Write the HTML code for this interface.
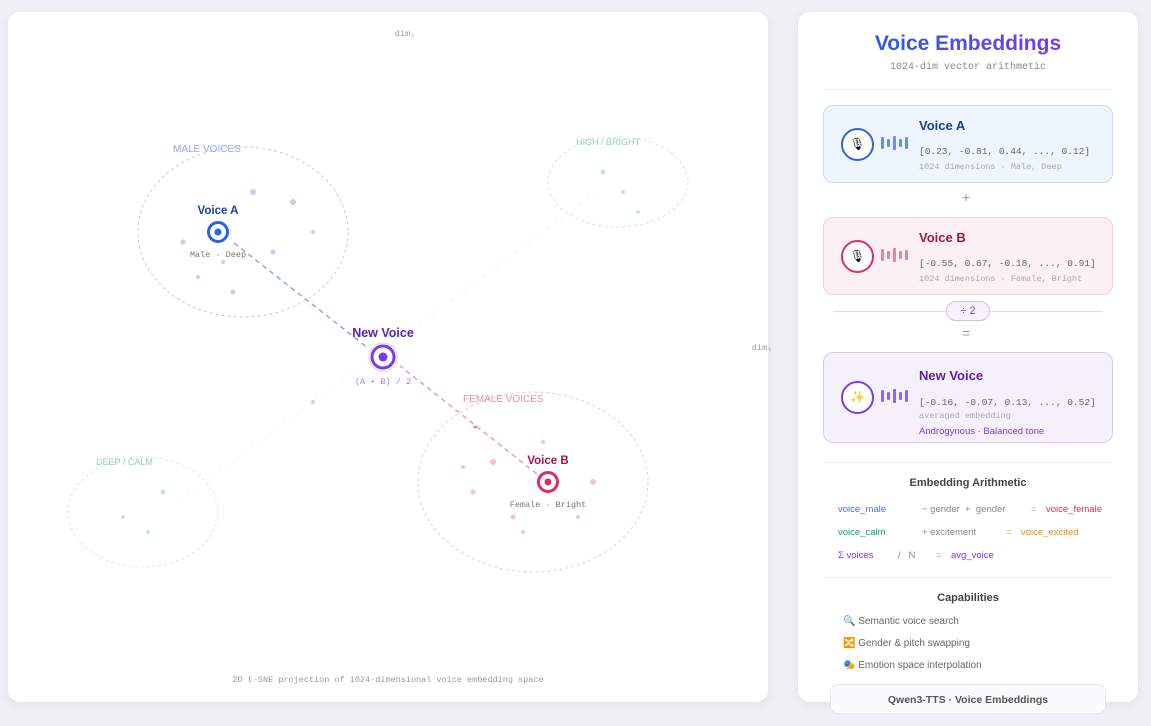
<!DOCTYPE html>
<html><head><style>
body{margin:0;width:1151px;height:726px;background:#eef0f5;font-family:"Liberation Sans",sans-serif;position:relative;overflow:hidden}
.panel{position:absolute;background:#fff;border-radius:12px;box-shadow:0 2px 10px rgba(0,0,0,.07)}
.mono{font-family:"Liberation Mono",monospace}
.card{position:absolute;left:823px;width:288px;border-radius:10px;border:1.5px solid}
.card .ic{position:absolute;left:17px;width:29px;height:29px;border-radius:50%;border:2px solid;background:#fff;text-align:center;line-height:29px;font-size:12px}
.card .bars{position:absolute;left:57px;display:flex;gap:3px;align-items:center;height:20px}
.card .bars i{display:block;width:3px;border-radius:1px}
.card .t{position:absolute;left:95px;font-weight:bold;font-size:13px}
.card .v{position:absolute;left:95px;font-size:9.5px;color:#666}
.card .s{position:absolute;left:95px;font-size:8.5px;color:#aaa}
.ar{position:absolute;font-size:9.5px}
</style></head><body>
<div class="panel" style="left:8px;top:12px;width:760px;height:690px"></div>
<svg style="position:absolute;left:0;top:0" width="800" height="726">
<g fill="none" stroke-dasharray="3 3" stroke-width="1">
<ellipse cx="243" cy="232" rx="105" ry="85" stroke="#c5cbe0"/>
<ellipse cx="618" cy="182" rx="70" ry="45" stroke="#cfe9dd"/>
<ellipse cx="533" cy="482" rx="115" ry="90" stroke="#e0cdd3"/>
<ellipse cx="143" cy="512" rx="75" ry="55" stroke="#d5ecdf"/>
</g>
<line x1="180" y1="500" x2="600" y2="190" stroke="#f3f4f7" stroke-dasharray="4 4"/>
<line x1="234" y1="243" x2="368" y2="348" stroke="#8fa7e8" stroke-width="1.5" stroke-dasharray="5 4"/>
<line x1="537" y1="474" x2="400" y2="366" stroke="#ef9ab6" stroke-width="1.5" stroke-dasharray="5 4"/>
<g fill="#c3d0f0">
<circle cx="253" cy="192" r="3"/><circle cx="293" cy="202" r="3"/><circle cx="313" cy="232" r="2"/><circle cx="183" cy="242" r="2.5"/><circle cx="273" cy="252" r="2.5"/><circle cx="223" cy="262" r="2"/><circle cx="198" cy="277" r="2"/><circle cx="233" cy="292" r="2.5"/><circle cx="313" cy="402" r="2"/></g>
<g fill="#f5c2d2">
<circle cx="493" cy="462" r="3"/><circle cx="463" cy="467" r="2"/><circle cx="543" cy="442" r="2"/><circle cx="593" cy="482" r="3"/><circle cx="473" cy="492" r="2.5"/><circle cx="513" cy="517" r="2.5"/><circle cx="523" cy="532" r="2"/><circle cx="578" cy="517" r="2"/><circle cx="475" cy="427" r="1.5" fill="#e77"/></g>
<g fill="#bfe6d2"><circle cx="603" cy="172" r="2.5"/><circle cx="623" cy="192" r="2"/><circle cx="638" cy="212" r="2"/><circle cx="163" cy="492" r="2.5"/><circle cx="123" cy="517" r="2"/><circle cx="148" cy="532" r="2"/></g>
<circle cx="218" cy="232" r="9.5" fill="#fff" stroke="#2d62e0" stroke-width="3"/><circle cx="218" cy="232" r="3.5" fill="#2d62e0"/>
<circle cx="383" cy="357" r="14" fill="none" stroke="#ddd3f7"/>
<circle cx="383" cy="357" r="11" fill="#fff" stroke="#7c3aed" stroke-width="3"/><circle cx="383" cy="357" r="4.5" fill="#7c3aed"/>
<circle cx="548" cy="482" r="9.5" fill="#fff" stroke="#db2d6a" stroke-width="3"/><circle cx="548" cy="482" r="3.5" fill="#db2d6a"/>
<g font-family="Liberation Sans" font-size="10">
<text x="173" y="152" fill="#8faae8">MALE VOICES</text>
<text x="576" y="145" fill="#8fd0b0" font-size="9">HIGH / BRIGHT</text>
<text x="463" y="402" fill="#ec8fb0">FEMALE VOICES</text>
<text x="96" y="465" fill="#8fd0b0" font-size="9">DEEP / CALM</text>
<text x="218" y="214" fill="#1e3a9a" font-weight="bold" font-size="11.5" text-anchor="middle">Voice A</text>
<text x="383" y="337" fill="#5b21b6" font-weight="bold" font-size="12.5" text-anchor="middle">New Voice</text>
<text x="548" y="464" fill="#9d174d" font-weight="bold" font-size="11.5" text-anchor="middle">Voice B</text>
</g>
<g font-family="Liberation Mono" font-size="8.5">
<text x="218" y="257" fill="#777" text-anchor="middle">Male · Deep</text>
<text x="383" y="384" fill="#9a82e0" text-anchor="middle">(A + B) / 2</text>
<text x="548" y="507" fill="#777" text-anchor="middle">Female · Bright</text>
<text x="405" y="36" fill="#999" text-anchor="middle">dim₂</text>
<text x="762" y="350" fill="#999" text-anchor="middle">dim₁</text>
<text x="388" y="682" fill="#999" text-anchor="middle">2D t-SNE projection of 1024-dimensional voice embedding space</text>
</g>
</svg>
<div class="panel" style="left:798px;top:12px;width:340px;height:690px"></div>
<div style="position:absolute;left:798px;width:340px;top:32px;text-align:center;font-size:21px;font-weight:bold;color:#3f5fe0"><span style="background:linear-gradient(90deg,#2d5be0,#7c3aed);-webkit-background-clip:text;background-clip:text;color:transparent">Voice Embeddings</span></div>
<div class="mono" style="position:absolute;left:798px;width:340px;top:62px;text-align:center;font-size:10px;color:#888">1024-dim vector arithmetic</div>
<div style="position:absolute;left:823px;width:290px;top:89px;border-top:1px solid #eceef2"></div>
<div class="card" style="top:105px;height:76px;background:#eef5fe;border-color:#c9dcf7">
<div class="ic" style="top:22px;border-color:#2d62e0">🎙</div>
<div class="bars" style="top:27px"><i style="height:12px;background:#6b8ee8"></i><i style="height:8px;background:#6b8ee8"></i><i style="height:14px;background:#6b8ee8"></i><i style="height:8px;background:#6b8ee8"></i><i style="height:12px;background:#6b8ee8"></i></div>
<div class="t" style="top:12px;color:#1e3a9a">Voice A</div>
<div class="v mono" style="top:40px">[0.23, -0.81, 0.44, ..., 0.12]</div>
<div class="s mono" style="top:56px">1024 dimensions · Male, Deep</div></div>
<div style="position:absolute;left:962px;top:189px;font-size:14px;color:#999">+</div>
<div class="card" style="top:217px;height:76px;background:#fdf0f4;border-color:#f7cfdc">
<div class="ic" style="top:22px;border-color:#db2d6a">🎙</div>
<div class="bars" style="top:27px"><i style="height:12px;background:#e684a6"></i><i style="height:8px;background:#e684a6"></i><i style="height:14px;background:#e684a6"></i><i style="height:8px;background:#e684a6"></i><i style="height:10px;background:#e684a6"></i></div>
<div class="t" style="top:12px;color:#9d174d">Voice B</div>
<div class="v mono" style="top:40px">[-0.55, 0.67, -0.18, ..., 0.91]</div>
<div class="s mono" style="top:56px">1024 dimensions · Female, Bright</div></div>
<div style="position:absolute;left:833px;width:270px;top:311px;border-top:1.5px solid #ddd6f5"></div>
<div style="position:absolute;left:946px;top:301px;width:42px;height:18px;border:1px solid #cdbff2;border-radius:10px;background:#f6f3fe;text-align:center;font-size:11px;line-height:18px;color:#6d4ad0">÷ 2</div>
<div style="position:absolute;left:962px;top:325px;font-size:14px;color:#999">=</div>
<div class="card" style="top:352px;height:89px;background:#f4f1fd;border-color:#d6cbf5">
<div class="ic" style="top:28px;border-color:#7c3aed">✨</div>
<div class="bars" style="top:33px"><i style="height:12px;background:#8b6ae8"></i><i style="height:8px;background:#8b6ae8"></i><i style="height:14px;background:#8b6ae8"></i><i style="height:8px;background:#8b6ae8"></i><i style="height:12px;background:#8b6ae8"></i></div>
<div class="t" style="top:15px;color:#5b21b6">New Voice</div>
<div class="v mono" style="top:44px">[-0.16, -0.07, 0.13, ..., 0.52]</div>
<div class="s mono" style="top:58px">averaged embedding</div>
<div style="position:absolute;left:95px;top:73px;font-size:9.5px;color:#7c3aed">Androgynous · Balanced tone</div></div>
<div style="position:absolute;left:823px;width:290px;top:462px;border-top:1px solid #eceef2"></div>
<div style="position:absolute;left:798px;width:340px;top:477px;text-align:center;font-size:11px;font-weight:bold;color:#444">Embedding Arithmetic</div>
<div class="ar" style="left:838px;top:504px;color:#4a72d8">voice_male</div>
<div class="ar" style="left:922px;top:504px;color:#888">− gender &nbsp;+ &nbsp;gender</div>
<div class="ar" style="left:1031px;top:504px;color:#aaa">=</div>
<div class="ar" style="left:1046px;top:504px;color:#db2d6a">voice_female</div>
<div class="ar" style="left:838px;top:527px;color:#16a36a">voice_calm</div>
<div class="ar" style="left:922px;top:527px;color:#888">+ excitement</div>
<div class="ar" style="left:1006px;top:527px;color:#aaa">=</div>
<div class="ar" style="left:1021px;top:527px;color:#e8901a">voice_excited</div>
<div class="ar" style="left:838px;top:550px;color:#7c3aed">Σ voices</div>
<div class="ar" style="left:898px;top:550px;color:#888">/ &nbsp; N</div>
<div class="ar" style="left:936px;top:550px;color:#aaa">=</div>
<div class="ar" style="left:951px;top:550px;color:#7c3aed">avg_voice</div>
<div style="position:absolute;left:823px;width:290px;top:577px;border-top:1px solid #eceef2"></div>
<div style="position:absolute;left:798px;width:340px;top:592px;text-align:center;font-size:11px;font-weight:bold;color:#444">Capabilities</div>
<div style="position:absolute;left:843px;top:611px;font-size:10px;color:#666;line-height:22px">🔍 Semantic voice search<br>🔀 Gender &amp; pitch swapping<br>🎭 Emotion space interpolation</div>
<div style="position:absolute;left:830px;top:684px;width:274px;height:28px;background:#fafbfc;border:1px solid #e6e8ee;border-radius:8px;text-align:center;line-height:30px;font-size:10.5px;font-weight:bold;color:#555">Qwen3-TTS · Voice Embeddings</div>
</body></html>
